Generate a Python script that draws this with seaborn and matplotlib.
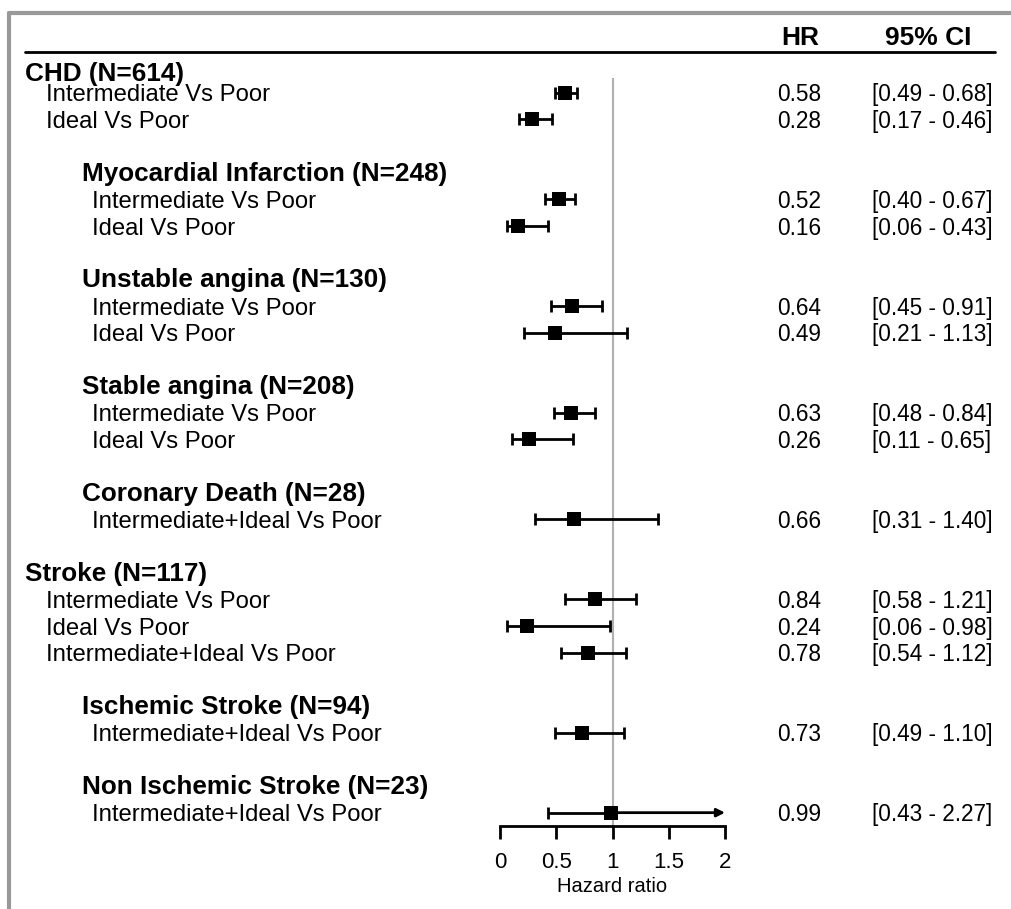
import numpy as np
import pandas as pd
import seaborn as sns
import matplotlib.pyplot as plt
from matplotlib.lines import Line2D
from matplotlib import transforms

# group headers and rows (label, hr, lower, upper)
groups = ["CHD (N=614)", "Myocardial Infarction (N=248)", "Unstable angina (N=130)",
          "Stable angina (N=208)", "Coronary Death (N=28)", "Stroke (N=117)",
          "Ischemic Stroke (N=94)", "Non Ischemic Stroke (N=23)"]
group_level = [0, 1, 1, 1, 1, 0, 1, 1]
group_row = [0.2, 3.95, 7.95, 11.95, 15.95, 18.95, 23.95, 26.95]

labels = ["Intermediate Vs Poor", "Ideal Vs Poor",
          "Intermediate Vs Poor", "Ideal Vs Poor",
          "Intermediate Vs Poor", "Ideal Vs Poor",
          "Intermediate Vs Poor", "Ideal Vs Poor",
          "Intermediate+Ideal Vs Poor",
          "Intermediate Vs Poor", "Ideal Vs Poor", "Intermediate+Ideal Vs Poor",
          "Intermediate+Ideal Vs Poor",
          "Intermediate+Ideal Vs Poor"]
label_level = [0, 0, 1, 1, 1, 1, 1, 1, 1, 0, 0, 0, 1, 1]
rows = [1, 2, 5, 6, 9, 10, 13, 14, 17, 20, 21, 22, 25, 28]
hr = [0.58, 0.28, 0.52, 0.16, 0.64, 0.49, 0.63, 0.26, 0.66, 0.84, 0.24, 0.78, 0.73, 0.99]
lo = [0.49, 0.17, 0.40, 0.06, 0.45, 0.21, 0.48, 0.11, 0.31, 0.58, 0.06, 0.54, 0.49, 0.43]
hi = [0.68, 0.46, 0.67, 0.43, 0.91, 1.13, 0.84, 0.65, 1.40, 1.21, 0.98, 1.12, 1.10, 2.27]
xticks = [0, 0.5, 1, 1.5, 2]
xtick_labels = ["0", "0.5", "1", "1.5", "2"]

df = pd.DataFrame({"label": labels, "row": rows, "hr": hr, "lo": lo, "hi": hi,
                   "level": label_level})
xmax = 2

sns.set_style("white")
plt.rcParams['font.family'] = ['Liberation Sans', 'DejaVu Sans']
plt.rcParams['text.color'] = 'black'
plt.rcParams['xtick.color'] = 'black'
plt.rcParams['axes.labelcolor'] = 'black'

W, H = 1011, 909
ROW = 26.67
fig = plt.figure(figsize=(W / 100, H / 100), dpi=100)
ax = fig.add_axes([500 / W, (H - 826) / H, 225 / W, 826 / H])
ax.set_xlim(0, xmax)
ax.set_ylim(28.5, 28.5 - 826 / ROW)
ax.patch.set_alpha(0)

# reference line
ax.vlines(1, 0.45, 28.5, color="#b0b0b0", lw=1.5, zorder=1)

inside = df[df.hi <= xmax]
ax.errorbar(inside.hr, inside.row, xerr=[inside.hr - inside.lo, inside.hi - inside.hr],
            fmt="none", ecolor="black", elinewidth=2, capsize=4, capthick=2, zorder=2)
over = df[df.hi > xmax]
ax.errorbar(over.hr, over.row, xerr=[over.hr - over.lo, np.zeros(len(over))],
            fmt="none", ecolor="black", elinewidth=2, capsize=4, capthick=2, zorder=2)
for _, r in over.iterrows():
    ax.annotate("", xy=(xmax, r.row), xytext=(r.hr, r.row),
                arrowprops=dict(arrowstyle="-|>", lw=2, color="black",
                                mutation_scale=12, shrinkA=0, shrinkB=0),
                annotation_clip=False, zorder=2)

sns.scatterplot(data=df, x="hr", y="row", marker="s", s=110, color="black",
                edgecolor="black", linewidth=0, ax=ax, zorder=3, clip_on=False)

# axis styling
for s in ["top", "right", "left"]:
    ax.spines[s].set_visible(False)
ax.spines["bottom"].set_linewidth(2)
ax.spines["bottom"].set_color("black")
ax.set_yticks([])
ax.set_xticks(xticks)
ax.set_xticklabels(xtick_labels, fontsize=16)
ax.tick_params(axis="x", bottom=True, direction="out", length=9.5, width=2,
               color="black", pad=9)
ax.set_xlabel("Hazard ratio", fontsize=14.5, labelpad=3)
ax.set_ylabel("")

# text columns
tr = transforms.blended_transform_factory(fig.transFigure, ax.transData)
for g, lvl, r in zip(groups, group_level, group_row):
    ax.text((25 if lvl == 0 else 82) / W, r + 9.3 / ROW, g, transform=tr, fontsize=18.8,
            fontweight="bold", va="baseline", ha="left")
for _, r in df.iterrows():
    y = r.row + 8.6 / ROW
    ax.text((46 if r.level == 0 else 92) / W, y, r.label, transform=tr, fontsize=17.2,
            va="baseline", ha="left")
    ax.text(777 / W, y, f"{r.hr:.2f}", transform=tr, fontsize=16.3, va="baseline", ha="left")
    ax.text(872 / W, y, f"[{r.lo:.2f} - {r.hi:.2f}]", transform=tr, fontsize=16.3,
            va="baseline", ha="left")

fig.text(800 / W, 1 - 38 / H, "HR", fontsize=19, fontweight="bold", ha="center", va="center")
fig.text(928 / W, 1 - 38 / H, "95% CI", fontsize=19, fontweight="bold", ha="center", va="center")

# header rule and frame
fig.add_artist(Line2D([25 / W, 995 / W], [1 - 52 / H, 1 - 52 / H], color="black", lw=2))
fig.add_artist(Line2D([9 / W, 1], [1 - 13 / H, 1 - 13 / H], color="#999999", lw=3))
fig.add_artist(Line2D([9 / W, 9 / W], [0, 1 - 13 / H], color="#999999", lw=3))

fig.savefig("out.png", dpi=100)
